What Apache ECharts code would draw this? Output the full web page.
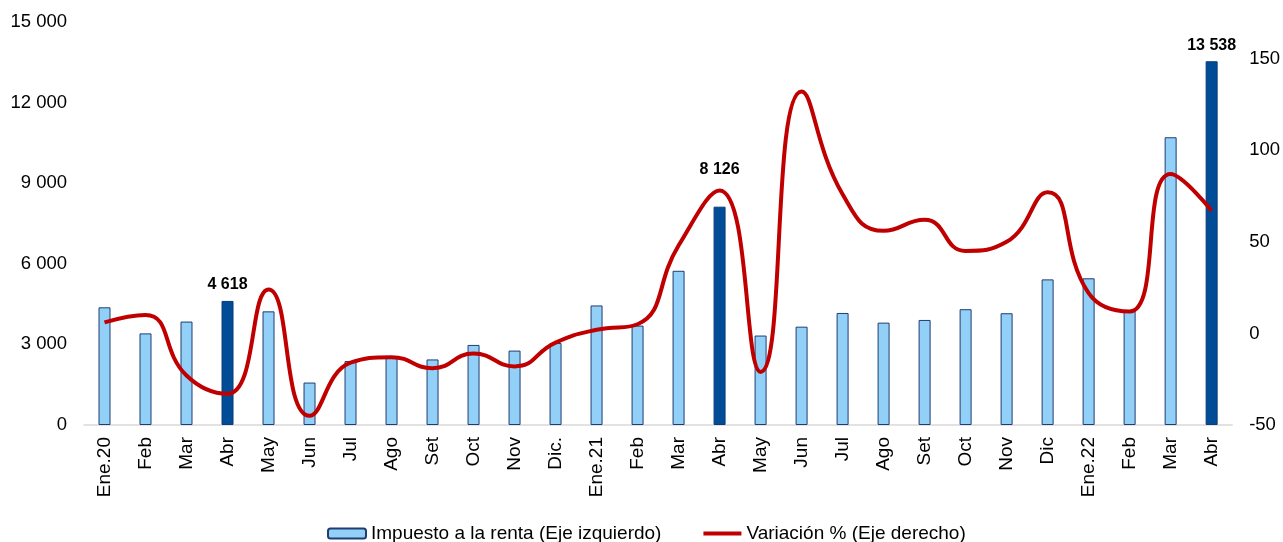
<!DOCTYPE html>
<html>
<head>
<meta charset="utf-8">
<script src="https://cdn.jsdelivr.net/npm/echarts@6/dist/echarts.min.js"></script>
<style>
  html, body { margin: 0; padding: 0; background: #fff; }
  #chart { width: 1283px; height: 542px; }
</style>
</head>
<body>
<div id="chart"></div>
<script>
// meses
const categories = [
  "Ene.20", "Feb", "Mar", "Abr", "May", "Jun", "Jul", "Ago", "Set", "Oct", "Nov", "Dic.",
  "Ene.21", "Feb", "Mar", "Abr", "May", "Jun", "Jul", "Ago", "Set", "Oct", "Nov", "Dic",
  "Ene.22", "Feb", "Mar", "Abr"
];
// Impuesto a la renta (millones), eje izquierdo
const impuesto = [
  4380, 3410, 3850, 4618, 4230, 1580, 2380, 2520, 2440, 2980, 2770, 3050,
  4450, 3700, 5740, 8126, 3330, 3660, 4170, 3810, 3910, 4310, 4160, 5420,
  5460, 4280, 10710, 13538
];
// Variacion %, eje derecho
const variacion = [
  6, 10, -23, -33, 24, -45, -16, -13, -19, -11, -18, -5,
  2, 5, 48, 78, -21, 132, 76, 56, 62, 45, 50, 77,
  22, 12, 87, 67
];
// barras resaltadas (abril de cada año) y separación de su etiqueta
const highlighted = [3, 15, 27];
const labelDistance = { 3: 8, 15: 29, 27: 8 };

const leftTicks = [0, 3000, 6000, 9000, 12000, 15000];
const rightTicks = [-50, 0, 50, 100, 150];

const FONT = "'Liberation Sans', Arial, sans-serif";
const fmtMiles = (v) => String(v).replace(/\B(?=(\d{3})+(?!\d))/g, " ");

const barData = impuesto.map((v, i) => {
  if (highlighted.indexOf(i) >= 0) {
    return {
      value: v,
      itemStyle: { color: "#004C97", borderColor: "#0B3A78" },
      label: {
        show: true,
        position: "top",
        distance: labelDistance[i],
        formatter: (p) => fmtMiles(p.value),
        fontWeight: "bold",
        fontSize: 16,
        color: "#000",
        fontFamily: FONT
      }
    };
  }
  return v;
});

const chart = echarts.init(document.getElementById("chart"), null, { renderer: "canvas" });
chart.setOption({
  animation: false,
  textStyle: { fontFamily: FONT },
  grid: { left: 84, right: 49, top: 22, bottom: 117 },
  legend: {
    left: 322,
    top: 519,
    itemGap: 42,
    itemWidth: 38,
    itemHeight: 10,
    textStyle: { fontSize: 19, color: "#000", fontFamily: FONT },
    data: [
      { name: "Impuesto a la renta (Eje izquierdo)" },
      {
        name: "Variación % (Eje derecho)",
        icon: "path://M0,0 L38,0 L38,4 L0,4 Z",
        itemStyle: { color: "#C00000", borderWidth: 0 }
      }
    ]
  },
  xAxis: {
    type: "category",
    data: categories,
    axisLine: { lineStyle: { color: "#D9D9D9", width: 1.5 } },
    axisTick: { show: false },
    axisLabel: {
      rotate: 90,
      interval: 0,
      margin: 12,
      fontSize: 19,
      color: "#000",
      fontFamily: FONT
    }
  },
  yAxis: [
    {
      type: "value",
      min: leftTicks[0],
      max: leftTicks[leftTicks.length - 1],
      interval: leftTicks[1] - leftTicks[0],
      splitLine: { show: false },
      axisLine: { show: false },
      axisTick: { show: false },
      axisLabel: {
        margin: 17,
        fontSize: 18.5,
        color: "#000",
        fontFamily: FONT,
        formatter: (v) => fmtMiles(v)
      }
    },
    {
      type: "value",
      min: rightTicks[0],
      max: 170,
      interval: rightTicks[1] - rightTicks[0],
      splitLine: { show: false },
      axisLine: { show: false },
      axisTick: { show: false },
      axisLabel: {
        margin: 17,
        fontSize: 18.5,
        color: "#000",
        fontFamily: FONT,
        formatter: (v) => (rightTicks.indexOf(v) >= 0 ? String(v) : "")
      }
    }
  ],
  series: [
    {
      name: "Impuesto a la renta (Eje izquierdo)",
      type: "bar",
      yAxisIndex: 0,
      barWidth: 12,
      itemStyle: { color: "#92D0F8", borderColor: "#1F3C73", borderWidth: 1 },
      data: barData
    },
    {
      name: "Variación % (Eje derecho)",
      type: "line",
      yAxisIndex: 1,
      smooth: 0.5,
      symbol: "none",
      lineStyle: { color: "#C00000", width: 4 },
      itemStyle: { color: "#C00000" },
      data: variacion,
      z: 5
    }
  ]
});
</script>
</body>
</html>
